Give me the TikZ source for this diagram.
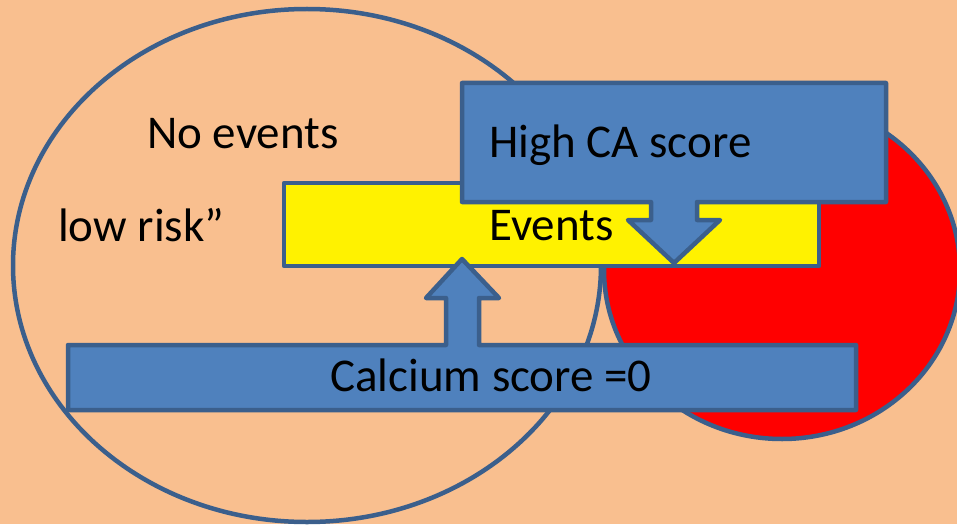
\documentclass[tikz,border=0pt]{standalone}
\usepackage{fontspec}
\setmainfont{Carlito}
\definecolor{peach}{HTML}{F9BF8F}
\definecolor{boxblue}{HTML}{4F81BD}
\definecolor{edgeblue}{HTML}{3B5F8C}
\begin{document}
\begin{tikzpicture}[x=1pt,y=-1pt,
  every node/.style={font=\fontsize{47}{56}\selectfont,inner sep=0pt,anchor=base west},
  outline/.style={draw=edgeblue,line width=4.5pt,line join=round}]
% Background
\fill[peach] (0,0) rectangle (957,524);
\clip (0,0) rectangle (957,524);
% Two circles
\fill[red,outline] (782,270) ellipse [x radius=178,y radius=169];
\draw[outline] (307,265.5) ellipse [x radius=294,y radius=256.5];
% Events bar
\fill[yellow,outline] (284,183) rectangle (819,266);
% High CA callout, arrow down
\fill[boxblue,outline] (462,83) -- (886,83) -- (886,202) -- (697,202) -- (697,220) -- (720,220)
  -- (674,263) -- (628,220) -- (651,220) -- (651,202) -- (462,202) -- cycle;
% Calcium score callout, arrow up
\fill[boxblue,outline] (68,345) -- (446,345) -- (446,298) -- (426,298) -- (462,259) -- (499,298)
  -- (479,298) -- (479,345) -- (856,345) -- (856,410) -- (68,410) -- cycle;
% Labels
\node (noevents) at (147,148) {No events};
\node (lowrisk) at (58,241) {low risk”};
\node (events) at (489,240) {Events};
\node (highca) at (489,157) {High CA score};
\node (calcium) at (330,391) {Calcium score =0};
\end{tikzpicture}
\end{document}
